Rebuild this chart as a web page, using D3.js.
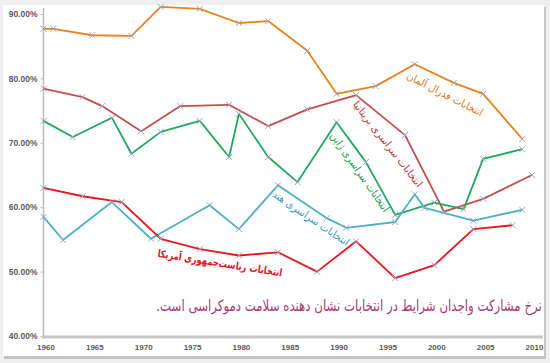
<!DOCTYPE html>
<html><head><meta charset="utf-8">
<script src="https://cdn.jsdelivr.net/npm/d3@7"></script>
<style>
html,body{margin:0;padding:0;background:#eeeeee;}
svg{display:block;}
</style></head>
<body>
<script>
// ---- data ----
const germanyYears = [1960,1961,1965,1969,1972,1976,1980,1983,1987,1990,1994,1998,2002,2005,2009];
const germanyValues = [87.7,87.7,86.7,86.6,91.1,90.8,88.6,88.9,84.3,77.6,78.8,82.2,79.3,77.6,70.6];
const ukYears = [1960,1964,1966,1970,1974,1979,1983,1987,1992,1997,2001,2005,2010];
const ukValues = [78.4,77.1,75.7,71.8,75.7,75.9,72.6,75.2,77.4,71.2,59.3,61.3,65.0];
const japanYears = [1960,1963,1967,1969,1972,1976,1979,1980,1983,1986,1990,1993,1996,2000,2003,2005,2009];
const japanValues = [73.4,70.9,73.9,68.3,71.7,73.4,67.8,74.5,67.8,63.9,73.2,67.0,58.8,60.7,59.7,67.5,69.0];
const indiaYears = [1960,1962,1967,1971,1977,1980,1984,1989,1991,1996,1998,1999,2004,2009];
const indiaValues = [58.5,54.9,60.8,55.1,60.3,56.6,63.4,58.3,56.8,57.7,62.0,59.9,57.9,59.6];
const usaYears = [1960,1964,1968,1972,1976,1980,1984,1988,1992,1996,2000,2004,2008];
const usaValues = [63.0,61.7,60.8,55.1,53.5,52.5,53.0,50.0,54.7,49.0,51.0,56.6,57.2];

const xTicks = [1960,1965,1970,1975,1980,1985,1990,1995,2000,2005,2010];
const yTicks = [40,50,60,70,80,90];

const seriesLabels = ["انتخابات فدرال آلمان","انتخابات سراسری بریتانیا","انتخابات سراسری ژاپن","انتخابات سراسری هند","انتخابات ریاست‌جمهوری آمریکا"];
const title = "نرخ مشارکت واجدان شرایط در انتخابات نشان دهنده سلامت دموکراسی است.";

// ---- drawing ----
const W = 550, H = 363;
const svg = d3.select("body").append("svg").attr("width", W).attr("height", H);

// panel
svg.append("rect").attr("x",0).attr("y",0).attr("width",W).attr("height",H).attr("fill","#efefef");
svg.append("rect").attr("x",4).attr("y",7).attr("width",542).attr("height",352).attr("fill","#c4c4c4");
svg.append("rect").attr("x",3).attr("y",5).attr("width",541).attr("height",351).attr("fill","#ffffff");

const x = d3.scaleLinear().domain([1960, 2010]).range([43.5, 532]);
const y = d3.scaleLinear().domain([40, 90]).range([336, 14]);

// y axis
const yAxis = svg.append("g").attr("transform","translate(43.5,0)")
  .call(d3.axisLeft(y).tickValues(yTicks).tickSize(3).tickFormat(d => d.toFixed(2) + "%"));
yAxis.select(".domain").attr("stroke","#bdbdbd").attr("stroke-width",1.5).attr("d","M0,8V337");
yAxis.selectAll(".tick line").attr("stroke","#bdbdbd");
yAxis.selectAll(".tick text").attr("font-family","Liberation Sans, Arial, sans-serif")
  .attr("font-size",8.5).attr("font-weight","bold").attr("fill","#5a5a5a").attr("x",-6);

// x axis
const xAxis = svg.append("g").attr("transform","translate(0,337)")
  .call(d3.axisBottom(x).tickValues(xTicks).tickSize(0).tickFormat(d3.format("d")));
xAxis.select(".domain").attr("stroke","#c6c6c6").attr("stroke-width",3).attr("d","M42,0H543");
xAxis.selectAll(".tick text").attr("font-family","Liberation Sans, Arial, sans-serif")
  .attr("font-size",8).attr("font-weight","bold").attr("fill","#5a5a5a").attr("dy","1.25em").attr("dx",2);

const series = [
  {years: germanyYears, values: germanyValues, color: "#e8821e"},
  {years: ukYears, values: ukValues, color: "#c0504d"},
  {years: japanYears, values: japanValues, color: "#22a85a"},
  {years: indiaYears, values: indiaValues, color: "#4bb0c8"},
  {years: usaYears, values: usaValues, color: "#e8161e"}
];

const line = d3.line().x(d => x(d[0])).y(d => y(d[1]));
series.forEach(s => {
  const pts = s.years.map((yr,i) => [yr, s.values[i]]);
  svg.append("path").datum(pts).attr("d", line).attr("fill","none")
    .attr("stroke", s.color).attr("stroke-width", 1.8).attr("stroke-linejoin","round");
});
series.forEach(s => {
  const pts = s.years.map((yr,i) => [yr, s.values[i]]);
  svg.append("g").selectAll("path").data(pts).join("path")
    .attr("transform", d => `translate(${x(d[0])},${y(d[1])})`)
    .attr("d","M-3,-3L3,3M-3,3L3,-3")
    .attr("stroke","#9aa3c4").attr("stroke-width",1).attr("fill","none");
});

// rotated series labels
const labelSpecs = [
  {text: seriesLabels[0], cx: 445, cy: 94, angle: 27, len: 84, color: "#e07412", weight: "normal"},
  {text: seriesLabels[1], cx: 388, cy: 144, angle: 52, len: 106, color: "#b83c3a", weight: "normal"},
  {text: seriesLabels[2], cx: 360, cy: 172, angle: 55, len: 94, color: "#1a9a4c", weight: "normal"},
  {text: seriesLabels[3], cx: 311, cy: 218, angle: 34, len: 90, color: "#3a9cb8", weight: "normal"},
  {text: seriesLabels[4], cx: 220, cy: 263, angle: 9, len: 126, color: "#e0141c", weight: "bold"}
];
labelSpecs.forEach(l => {
  svg.append("text")
    .attr("transform", `translate(${l.cx},${l.cy}) rotate(${l.angle})`)
    .attr("text-anchor","middle").attr("dy","0.35em")
    .attr("font-family","DejaVu Sans, sans-serif").attr("font-size",10.5)
    .attr("font-weight", l.weight).attr("fill", l.color)
    .attr("textLength", l.len).attr("lengthAdjust","spacingAndGlyphs")
    .attr("direction","rtl")
    .text(l.text);
});

// title: fit natural width to ~388px, stretch vertically to match glyph height
const t = svg.append("text").attr("x", 0).attr("y", 0).attr("text-anchor","middle")
  .attr("direction","rtl")
  .attr("font-family","DejaVu Sans Condensed, DejaVu Sans, sans-serif").attr("font-size",16)
  .attr("fill","#a83a78")
  .text(title);
const natural = t.node().getComputedTextLength();
const fs = Math.min(17, 16 * 386 / natural);
t.attr("font-size", fs)
 .attr("transform", `translate(349,311) scale(1,${Math.min(1.4, 15.5 / fs)})`);
</script>
</body></html>
